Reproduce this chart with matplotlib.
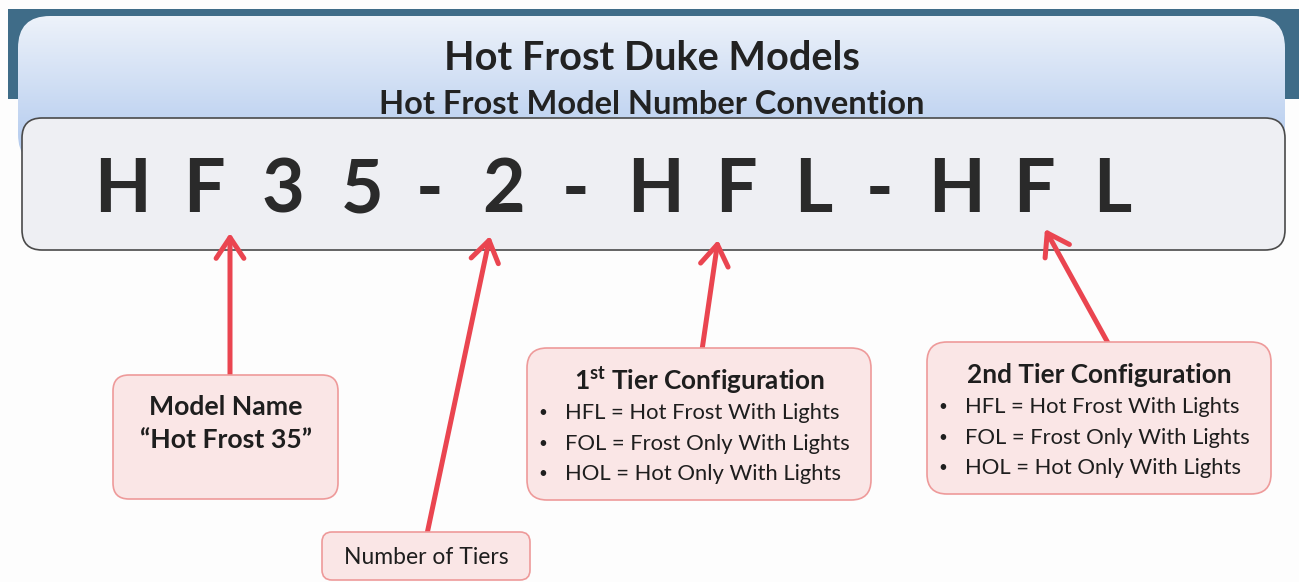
import numpy as np
import matplotlib.pyplot as plt
from matplotlib.patches import FancyBboxPatch, Rectangle

plt.rcParams['font.family'] = ['Lato', 'DejaVu Sans']
plt.rcParams['mathtext.fontset'] = 'custom'
plt.rcParams['mathtext.bf'] = 'Lato:bold'
plt.rcParams['mathtext.rm'] = 'Lato'

# text content
title = "Hot Frost Duke Models"
subtitle = "Hot Frost Model Number Convention"
code_chars = ['H', 'F', '3', '5', '-', '2', '-', 'H', 'F', 'L', '-', 'H', 'F', 'L']
model_lines = ["Model Name", "\u201cHot Frost 35\u201d"]
tiers_label = "Number of Tiers"
tier1_title = r"$\mathbf{1^{st}}$ Tier Configuration"
tier2_title = "2nd Tier Configuration"
tier_items = ["HFL = Hot Frost With Lights",
              "FOL = Frost Only With Lights",
              "HOL = Hot Only With Lights"]

# layout (pixel coordinates)
char_x = [122, 204, 283, 362, 430, 504, 576, 655, 736, 813, 880, 956, 1034, 1112]
arrows = [((230, 376), (230, 233)),
          ((427, 534), (490, 236)),
          ((702, 350), (718, 240)),
          ((1108, 343), (1045, 229))]

RED = '#ea4550'
PINK = '#fae6e6'
PINK_EDGE = '#ee9a9a'

fig = plt.figure(figsize=(12.99, 5.82), dpi=100)
ax = fig.add_axes([0, 0, 1, 1])
ax.set_xlim(0, 1299)
ax.set_ylim(582, 0)
ax.axis('off')
fig.patch.set_facecolor('#fdfdfd')

# dark header band
ax.add_patch(Rectangle((8, 9), 1291, 90, facecolor='#3f6c88', edgecolor='none', zorder=1))

# blue gradient panel
panel = FancyBboxPatch((18, 16), 1267, 150, boxstyle='round,pad=0,rounding_size=32',
                       facecolor='none', edgecolor='none', zorder=2)
ax.add_patch(panel)
grad = np.linspace(0, 1, 256).reshape(-1, 1)
top = np.array([0.93, 0.95, 0.98])
bot = np.array([0.68, 0.78, 0.93])
img = top + (bot - top) * grad[:, :, None]
im = ax.imshow(img, extent=(18, 1285, 166, 16), aspect='auto', zorder=2)
im.set_clip_path(panel)

ax.text(652, 58, title, ha='center', va='center', fontsize=28.5, fontweight='bold',
        color='#222222', zorder=3)
ax.text(652, 104, subtitle, ha='center', va='center', fontsize=23.5, fontweight='bold',
        color='#222222', zorder=3)

# gray code box
ax.add_patch(FancyBboxPatch((22, 118), 1263, 132, boxstyle='round,pad=0,rounding_size=20',
                            facecolor='#eeeff3', edgecolor='#4a4a4a', lw=1.2, zorder=4))
for ch, x in zip(code_chars, char_x):
    ax.text(x, 191, ch, ha='center', va='center', fontsize=53, fontweight='bold',
            color='#2a2a2a', zorder=5)

# arrows
for (tail, tip) in arrows:
    ax.annotate('', xy=tip, xytext=tail, zorder=6,
                arrowprops=dict(arrowstyle='->,head_length=0.75,head_width=0.5',
                                color=RED, lw=3.6, mutation_scale=20,
                                shrinkA=0, shrinkB=0))


def pink_box(x, y, w, h, r=16):
    ax.add_patch(FancyBboxPatch((x, y), w, h, boxstyle=f'round,pad=0,rounding_size={r}',
                                facecolor=PINK, edgecolor=PINK_EDGE, lw=1.2, zorder=7))


# model name box
pink_box(113, 375, 225, 124)
ax.text(226, 407, model_lines[0], ha='center', va='center', fontsize=19.2,
        fontweight='bold', color='#1e1e1e', zorder=8)
ax.text(226, 440, model_lines[1], ha='center', va='center', fontsize=19.2,
        fontweight='bold', color='#1e1e1e', zorder=8)

# number of tiers box
pink_box(322, 532, 208, 48, r=10)
ax.text(426, 557, tiers_label, ha='center', va='center', fontsize=16.5,
        color='#1e1e1e', zorder=8)

# tier configuration boxes
for (bx, by, ttl, tx, ty) in [(527, 348, tier1_title, 699, 381),
                              (927, 342, tier2_title, 1099, 375)]:
    pink_box(bx, by, 344, 152, r=20)
    ax.text(tx, ty, ttl, ha='center', va='center', fontsize=18.8, fontweight='bold',
            color='#1e1e1e', zorder=8)
    for i, item in enumerate(tier_items):
        yy = ty + 32 + i * 30.5
        ax.text(bx + 16, yy, '\u2022', ha='center', va='center', fontsize=11,
                color='#1e1e1e', zorder=8)
        ax.text(bx + 38, yy, item, ha='left', va='center', fontsize=15.8,
                color='#1e1e1e', zorder=8)

fig.savefig('out.png', dpi=100, facecolor=fig.get_facecolor())
